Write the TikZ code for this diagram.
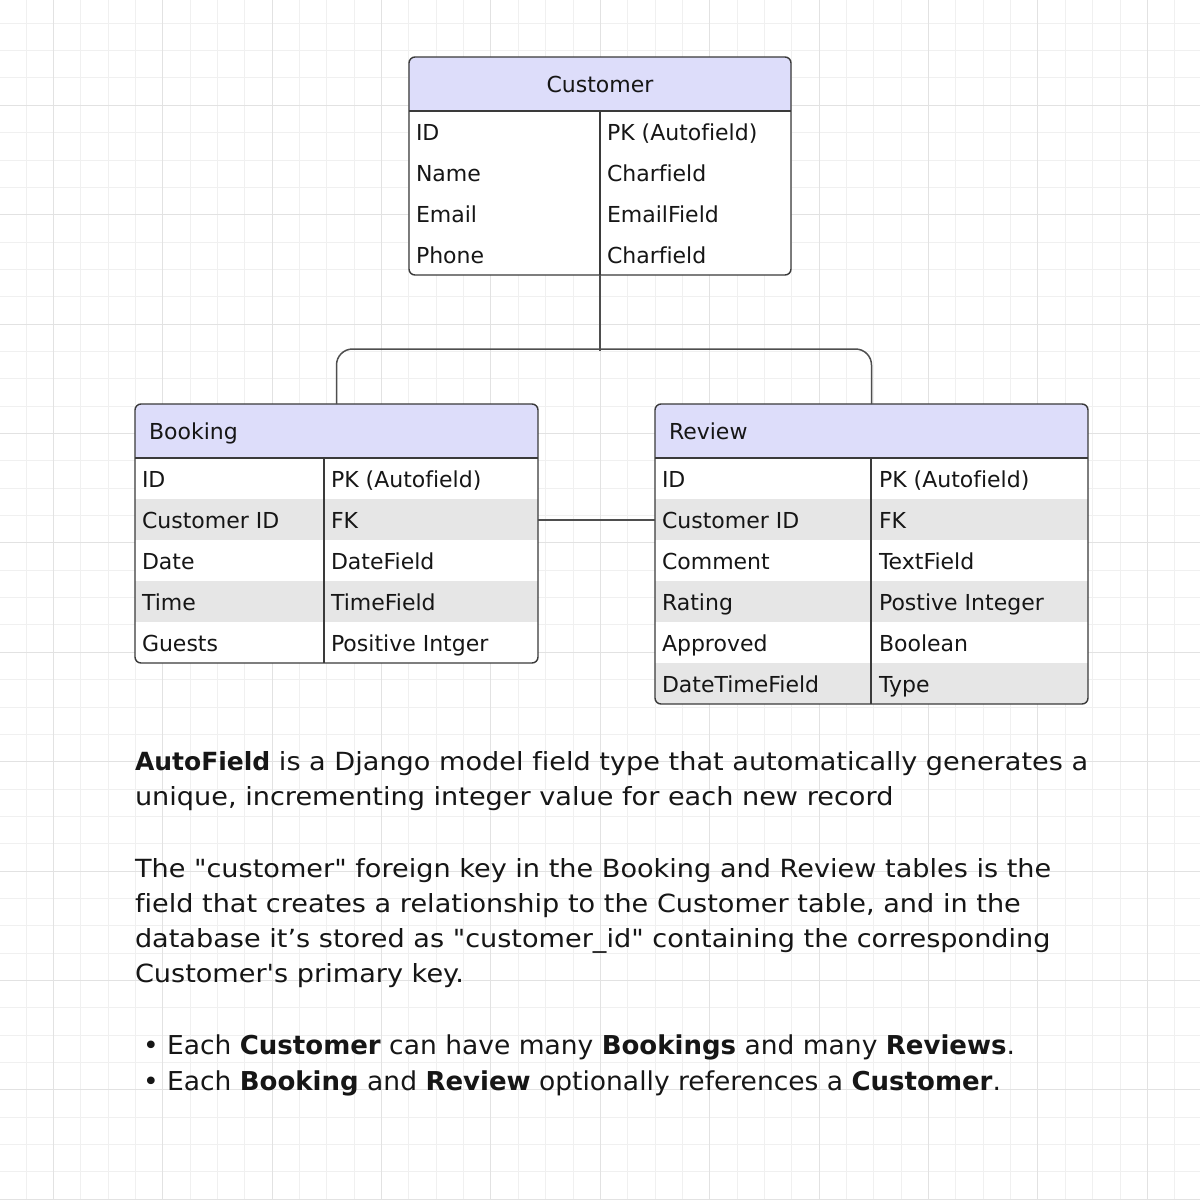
\documentclass[tikz,border=0pt]{standalone}
\usepackage{fontspec}
\newfontfamily\dejavu{DejaVu Sans}[Ligatures=NoCommon]
\newfontfamily\pararm{DejaVu Sans}[Ligatures=NoCommon,FakeStretch=1.085]
\newfontfamily\bulrm{DejaVu Sans}[Ligatures=NoCommon,FakeStretch=1.02]
\newcommand{\pb}[1]{{\dejavu\bfseries #1}}
\definecolor{gridminor}{HTML}{F0F0F0}
\definecolor{gridmajor}{HTML}{E2E2E2}
\definecolor{hdr}{HTML}{DDDDFA}
\definecolor{rowgray}{HTML}{E6E6E6}
\definecolor{edge}{HTML}{3A3A3A}
\definecolor{ink}{HTML}{161616}
\begin{document}
\begin{tikzpicture}[x=1pt,y=-1pt,
  minorline/.style={draw=gridminor,line width=1pt},
  majorline/.style={draw=gridmajor,line width=1pt},
  tbox/.style={draw=edge,line width=1.4pt,rounded corners=6pt,inner sep=0pt,outer sep=0pt,anchor=north west},
  sep/.style={draw=edge,line width=1.4pt},
  conn/.style={draw=edge!90!white,line width=1.5pt},
  cell/.style={anchor=base west,inner sep=0pt,outer sep=0pt,text=ink,font=\dejavu\fontsize{22}{26}\selectfont},
  para/.style={anchor=base west,inner sep=0pt,outer sep=0pt,text=ink,font=\pararm\fontsize{25}{30}\selectfont},
  bul/.style={anchor=base west,inner sep=0pt,outer sep=0pt,text=ink,font=\bulrm\fontsize{26}{30}\selectfont}]
\useasboundingbox (0,0) rectangle (1200,1200);
\fill[white] (0,0) rectangle (1200,1200);
% grid
\foreach \i in {0,...,43} {
  \draw[minorline] ({26+27.35*\i},0) -- ({26+27.35*\i},1200);
  \draw[minorline] (0,{23.25+27.35*\i}) -- (1200,{23.25+27.35*\i});
}
\foreach \i in {0,...,10} {
  \draw[majorline] ({53.35+109.4*\i},0) -- ({53.35+109.4*\i},1200);
  \draw[majorline] (0,{105.3+109.4*\i}) -- (1200,{105.3+109.4*\i});
}
% ---------- Customer table
\begin{scope}
\clip[rounded corners=6pt] (409,57) rectangle (791,275);
\fill[white] (409,57) rectangle (791,275);
\fill[hdr] (409,57) rectangle (791,111);
\end{scope}
\node[tbox,minimum width=382pt,minimum height=218pt] (cust) at (409,57) {};
\draw[sep] (409,111) -- (791,111);
\draw[sep] (600,111) -- (600,275);
\node[cell,anchor=base] (custh) at (600,92) {Customer};
\node[cell] (c1a) at (416,140) {ID};
\node[cell] (c1b) at (607,140) {PK (Autofield)};
\node[cell] (c2a) at (416,181) {Name};
\node[cell] (c2b) at (607,181) {Charfield};
\node[cell] (c3a) at (416,222) {Email};
\node[cell] (c3b) at (607,222) {EmailField};
\node[cell] (c4a) at (416,263) {Phone};
\node[cell] (c4b) at (607,263) {Charfield};
% ---------- Booking table
\begin{scope}
\clip[rounded corners=6pt] (135,404) rectangle (538,663);
\fill[white] (135,404) rectangle (538,663);
\fill[hdr] (135,404) rectangle (538,458);
\fill[rowgray] (135,499) rectangle (538,540);
\fill[rowgray] (135,581) rectangle (538,622);
\end{scope}
\node[tbox,minimum width=403pt,minimum height=259pt] (book) at (135,404) {};
\draw[sep] (135,458) -- (538,458);
\draw[sep] (324,458) -- (324,663);
\node[cell] (bookh) at (149,439) {Booking};
\node[cell] (b1a) at (142,487.5) {ID};
\node[cell] (b1b) at (331,487.5) {PK (Autofield)};
\node[cell] (b2a) at (142,528.5) {Customer ID};
\node[cell] (b2b) at (331,528.5) {FK};
\node[cell] (b3a) at (142,569.5) {Date};
\node[cell] (b3b) at (331,569.5) {DateField};
\node[cell] (b4a) at (142,610.5) {Time};
\node[cell] (b4b) at (331,610.5) {TimeField};
\node[cell] (b5a) at (142,651.5) {Guests};
\node[cell] (b5b) at (331,651.5) {Positive Intger};
% ---------- Review table
\begin{scope}
\clip[rounded corners=6pt] (655,404) rectangle (1088,704);
\fill[white] (655,404) rectangle (1088,704);
\fill[hdr] (655,404) rectangle (1088,458);
\fill[rowgray] (655,499) rectangle (1088,540);
\fill[rowgray] (655,581) rectangle (1088,622);
\fill[rowgray] (655,663) rectangle (1088,704);
\end{scope}
\node[tbox,minimum width=433pt,minimum height=300pt] (rev) at (655,404) {};
\draw[sep] (655,458) -- (1088,458);
\draw[sep] (871,458) -- (871,704);
\node[cell] (revh) at (669,439) {Review};
\node[cell] (r1a) at (662,487.5) {ID};
\node[cell] (r1b) at (879,487.5) {PK (Autofield)};
\node[cell] (r2a) at (662,528.5) {Customer ID};
\node[cell] (r2b) at (879,528.5) {FK};
\node[cell] (r3a) at (662,569.5) {Comment};
\node[cell] (r3b) at (879,569.5) {TextField};
\node[cell] (r4a) at (662,610.5) {Rating};
\node[cell] (r4b) at (879,610.5) {Postive Integer};
\node[cell] (r5a) at (662,651.5) {Approved};
\node[cell] (r5b) at (879,651.5) {Boolean};
\node[cell] (r6a) at (662,692.5) {DateTimeField};
\node[cell] (r6b) at (879,692.5) {Type};
% ---------- connectors
\coordinate (bar) at (600,349);
\coordinate (barend) at (600,351);
\draw[conn] (cust.south) -- (barend);
\draw[conn,rounded corners=16pt] (book.north) |- (bar) -| (rev.north);
\coordinate (fkrow) at (600,520);
\draw[conn,line width=1.2pt] (book.east |- fkrow) -- (rev.west |- fkrow);
% ---------- text
\node[para] (p1) at (135,770) {\pb{AutoField} is a Django model field type that automatically generates a};
\node[para] (p2) at (135,805) {unique, incrementing integer value for each new record};
\node[para] (p3) at (135,877) {The "customer" foreign key in the Booking and Review tables is the};
\node[para] (p4) at (135,912) {field that creates a relationship to the Customer table, and in the};
\node[para] (p5) at (135,947) {database it’s stored as "customer\_id" containing the corresponding};
\node[para] (p6) at (135,982) {Customer's primary key.};
\node[bul] (l1) at (143,1054) {• Each \pb{Customer} can have many \pb{Bookings} and many \pb{Reviews}.};
\node[bul] (l2) at (143,1090) {• Each \pb{Booking} and \pb{Review} optionally references a \pb{Customer}.};
\end{tikzpicture}
\end{document}
